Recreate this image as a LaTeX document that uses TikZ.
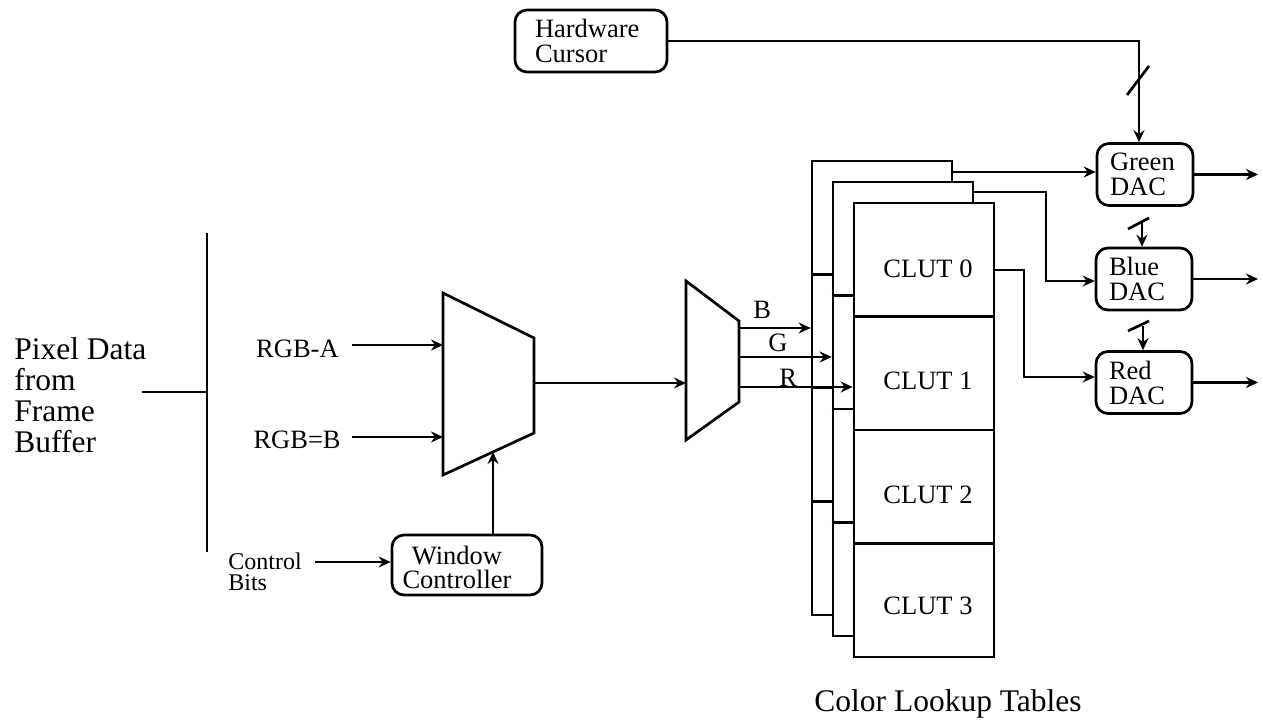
\documentclass[tikz,border=0pt]{standalone}
\usepackage{fontspec}
\setmainfont{Liberation Serif}
\usetikzlibrary{arrows.meta}
\begin{document}
\begin{tikzpicture}[x=1pt,y=-1pt,line width=2.7pt,
  arr/.style={-{Stealth[length=12pt,width=11pt,inset=4pt]}},
  rbox/.style={draw,rounded corners=12pt,inner sep=0pt},
  small/.style={font=\fontsize{26.5}{25}\selectfont},
  big/.style={font=\fontsize{31.5}{31}\selectfont},
  layer/.style={draw,fill=white,minimum width=140pt,minimum height=454pt,inner sep=0pt},
  dacbox/.style={rbox,small,minimum width=96pt,minimum height=62pt,text width=70pt,align=left}]
\useasboundingbox (0,0) rectangle (1263,722);

% ---------- left: pixel data and bus
\node[big,align=left,anchor=north west,inner sep=0pt] (pix) at (13,336.5) {Pixel Data\\from\\Frame\\Buffer};
\coordinate (busT) at (207,233);
\coordinate (busB) at (207,552);
\coordinate (busP) at (207,392);
\coordinate (pixout) at (142,392);
\draw (busT) -- (busB);
\draw (pixout) -- (busP);

% ---------- first multiplexer
\draw (443,293) -- (534,338) -- (534,433) -- (443,475) -- cycle;
\coordinate (m1a) at (443,345);
\coordinate (m1b) at (443,437);
\coordinate (m1s) at (493,452);
\coordinate (m1o) at (534,383);

\node[small,anchor=base east,inner sep=0pt] (ta) at (340,357) {RGB-A};
\node[small,anchor=base east,inner sep=0pt] (tb) at (342,448) {RGB=B};
\coordinate (ta1) at ([xshift=12pt]ta.east);
\coordinate (tb1) at ([xshift=10pt]tb.east);
\draw[arr] (ta1 |- m1a) -- (m1a);
\draw[arr] (tb1 |- m1b) -- (m1b);

% ---------- window controller
\node[rbox,minimum width=150pt,minimum height=60pt] (wc) at (467,565) {};
\node[font=\fontsize{26.5}{24}\selectfont,align=center,inner sep=0pt] (wct) at (457,567) {Window\\Controller};
\draw[arr] (m1s |- wc.north) -- (m1s);
\node[font=\fontsize{24}{21}\selectfont,align=left,anchor=north west,inner sep=0pt] (cb) at (227,551) {Control\\Bits};
\coordinate (cbo) at (315,562);
\draw[arr] (cbo) -- (cbo -| wc.west);

% ---------- second multiplexer
\draw (686,281) -- (739,321) -- (739,402) -- (686,440) -- cycle;
\coordinate (m2i) at (686,383);
\draw[arr] (m1o) -- (m2i);
\coordinate (m2b) at (739,328);
\coordinate (m2g) at (739,357);
\coordinate (m2r) at (739,387);

% ---------- colour lookup tables (three layers)
\node[layer] (L1) at (882,388) {};
\foreach \y in {274.5,388,501.5} \draw (L1.west |- 0,\y) -- (L1.east |- 0,\y);
\node[layer] (L2) at (903,409) {};
\foreach \y in {295.5,409,522.5} \draw (L2.west |- 0,\y) -- (L2.east |- 0,\y);
\node[layer] (L3) at (924,430) {};
\foreach \y in {316.5,430,543.5} \draw (L3.west |- 0,\y) -- (L3.east |- 0,\y);

\node[small,anchor=base,inner sep=0pt] (c0) at (928,277) {CLUT 0};
\node[small,anchor=base,inner sep=0pt] (c1) at (928,389) {CLUT 1};
\node[small,anchor=base,inner sep=0pt] (c2) at (928,503) {CLUT 2};
\node[small,anchor=base,inner sep=0pt] (c3) at (928,614) {CLUT 3};
\node[big,anchor=base,inner sep=0pt] (clt) at (948,711) {Color Lookup Tables};

% B G R buses
\draw[arr] (m2b) -- (m2b -| L1.west);
\draw[arr] (m2g) -- (m2g -| L2.west);
\draw[arr] (m2r) -- (m2r -| L3.west);
\node[small,anchor=base west,inner sep=0pt] (lb) at (752,318) {B};
\node[small,anchor=base west,inner sep=0pt] (lg) at (767,351) {G};
\node[small,anchor=base west,inner sep=0pt] (lr) at (778,386) {R};

% ---------- DACs
\node[dacbox] (dacG) at (1145,174.5) {Green\\DAC};
\node[dacbox] (dacB) at (1144,279) {Blue\\DAC};
\node[dacbox] (dacR) at (1144,382.5) {Red\\DAC};

\coordinate (gy) at (0,172);
\draw[arr] (L1.east |- gy) -- (dacG.west |- gy);
\coordinate (bt) at (1046,192);
\coordinate (bb) at (1046,281);
\draw[arr] (L2.east |- bt) -- (bt) -- (bb) -- (dacB.west |- bb);
\coordinate (rt) at (1024,270);
\coordinate (rb) at (1024,377);
\draw[arr] (L3.east |- rt) -- (rt) -- (rb) -- (dacR.west |- rb);

\coordinate (outx) at (1258,0);
\draw[arr] (dacG.east) -- (dacG.east -| outx);
\draw[arr] (dacB.east) -- (dacB.east -| outx);
\draw[arr] (dacR.east) -- (dacR.east -| outx);

% ---------- hardware cursor
\node[rbox,small,minimum width=152pt,minimum height=62pt,text width=112pt,align=left] (hc) at (591,41) {Hardware\\Cursor};
\coordinate (gx) at (1139,0);
\draw[arr] (hc.east) -| (gx |- dacG.north);
\draw (1127,95) -- (1149,66);

\coordinate (bs) at (1142,223);
\draw[arr] (bs) -- (bs |- dacB.north);
\draw (1128,229) -- (1149,218);
\coordinate (rs) at (1143,326);
\draw[arr] (rs) -- (rs |- dacR.north);
\draw (1128,331) -- (1149,321);
\end{tikzpicture}
\end{document}
